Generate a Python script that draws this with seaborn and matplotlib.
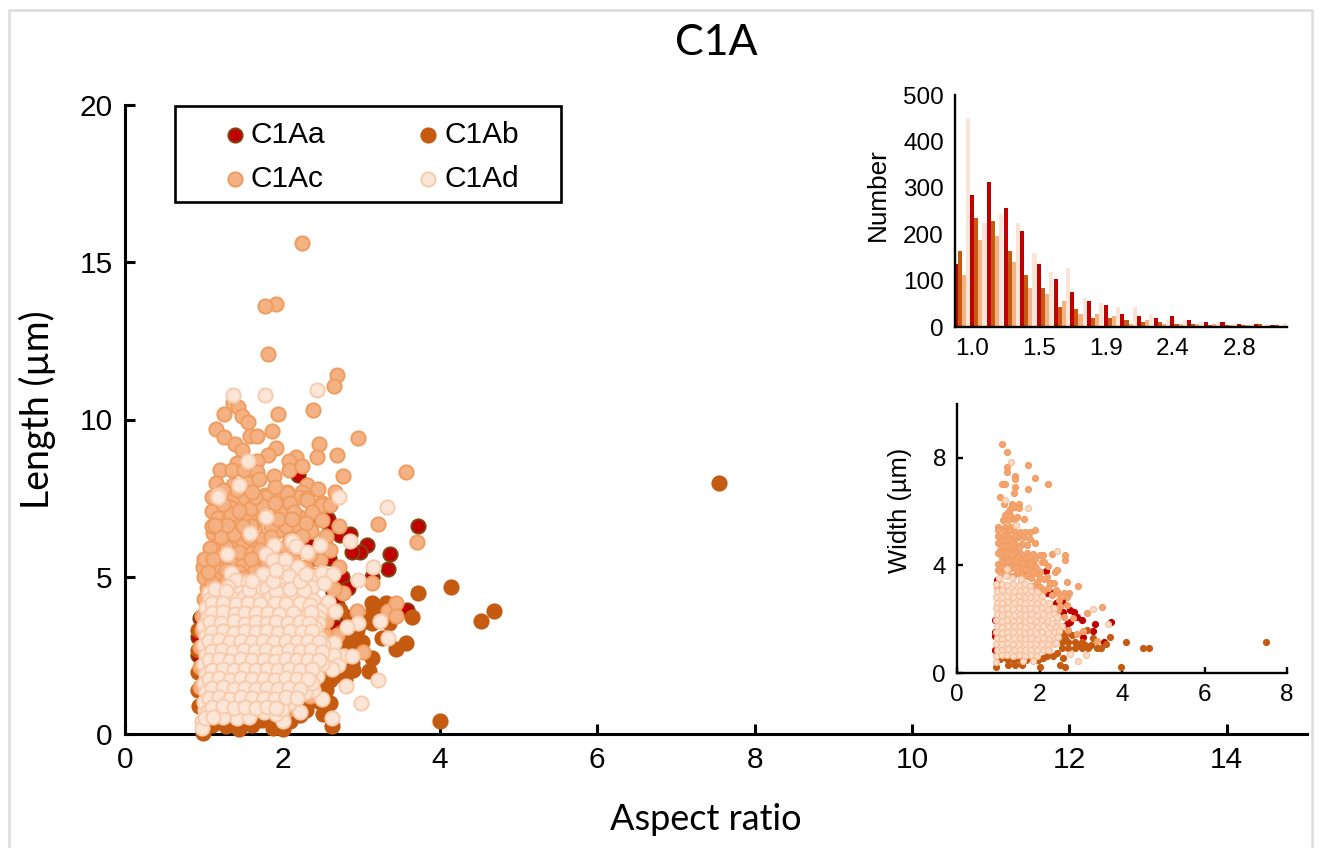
#!/usr/bin/env python
# filename: plot.py

import matplotlib
matplotlib.use('Agg')
import matplotlib.pyplot as plt
from matplotlib.patches import Rectangle
import pandas as pd
import seaborn as sns

W, H = 1320, 848

# --- main panel: (aspect ratio, length um)
c1aa_main = [
    (3.72,6.61),(2.58,6.84),(2.59,6.42),(2.73,6.33),(2.86,6.36),(3.07,6.01),(2.99,5.79),(2.88,5.79),
    (3.37,5.72),(3.34,5.25),(2.59,5.60),(2.76,4.99),(2.83,4.64),(3.14,4.99),(3.58,3.94),(2.82,3.72),
    (2.92,3.08),(2.64,4.48),(2.35,4.00),(2.54,6.01),(2.41,5.60),(2.20,6.23),(2.33,6.01),(2.39,6.96),
    (2.20,8.24),(0.95,3.69),(0.93,3.10),(0.93,2.50),(2.68,3.40),(2.70,4.10),
]
c1ab_main = [
    (7.55,7.98),(3.72,4.48),(4.14,4.67),(4.69,3.91),(4.52,3.59),(3.65,3.72),(4.00,0.41),(3.15,3.94),
    (3.32,4.17),(3.14,3.53),(3.35,3.53),(3.27,3.05),(3.57,2.89),(3.44,2.70),(3.14,2.42),(3.10,2.00),
    (3.01,2.93),(2.88,2.26),(2.73,1.94),(2.60,0.99),(2.52,0.64),(2.63,0.25),(2.01,0.16),(1.45,0.16),
    (1.28,0.25),(0.99,0.03),(1.74,0.45),(2.20,0.99),(2.33,1.08),(0.93,2.67),(0.93,1.97),(0.93,1.40),
    (0.93,3.30),(2.86,3.62),(2.73,3.94),(2.80,2.99),(2.67,2.67),(2.60,1.72),(2.41,1.40),(2.22,0.60),
    (1.90,0.38),(2.48,2.99),(3.14,4.18),(2.75,3.25),(2.92,2.72),(2.58,2.25),(2.48,1.85),(2.30,0.75),
    (1.10,0.30),(1.62,0.30),(1.88,0.20),(1.20,0.45),(2.10,0.40),(2.95,3.30),(3.05,3.60),(0.94,0.90),
    (2.85,3.00),(2.75,2.50),(2.90,2.05),(2.62,2.80),(2.70,2.30),(2.80,1.75),(2.55,1.40),(2.45,1.05),
]
c1ac_main = [
    (2.25,15.61),(1.92,13.67),(1.78,13.61),(1.82,12.08),(2.69,11.41),(2.66,11.07),(1.37,10.52),(1.44,10.40),
    (1.26,10.17),(1.49,10.11),(1.56,9.92),(1.94,10.17),(2.39,10.30),(1.16,9.70),(1.26,9.44),(1.59,9.48),
    (1.68,9.48),(1.87,9.63),(2.96,9.41),(2.47,9.22),(1.40,9.22),(1.49,9.03),(1.92,9.09),(2.44,8.81),
    (2.69,8.87),(1.82,8.87),(2.17,8.81),(2.08,8.68),(2.08,8.39),(2.25,8.52),(1.68,8.68),(1.42,8.62),
    (1.21,8.39),(1.36,8.39),(1.51,8.39),(1.68,8.33),(1.89,8.20),(2.77,8.20),(3.57,8.33),(1.16,7.98),
    (1.37,7.92),(1.56,7.98),(1.52,7.69),(2.06,7.69),(2.31,7.92),(2.45,7.79),(2.67,7.69),(2.25,7.69),
    (1.78,7.60),(1.94,7.54),(2.22,7.54),(2.31,7.50),(2.50,7.35),(1.37,7.54),(1.52,7.50),(1.79,7.54),
    (2.06,7.66),(2.31,7.44),(2.50,7.28),(2.60,7.28),(1.11,7.09),(1.33,7.22),(1.18,6.87),(1.32,6.84),
    (1.55,6.80),(1.69,7.03),(1.97,7.09),(2.20,6.93),(2.38,7.06),(2.21,6.61),(2.36,6.45),(2.72,6.61),
    (3.21,6.68),(3.71,6.10),(1.12,6.39),(1.30,6.33),(1.46,6.42),(1.93,6.45),(1.21,6.10),(1.37,6.07),
    (1.68,6.01),(1.17,5.85),(1.55,5.76),(2.01,5.79),(1.04,5.60),(1.11,5.28),(0.99,5.31),(1.18,5.37),
    (1.42,5.47),(1.68,5.53),(2.48,5.53),(2.72,5.31),(2.29,5.31),(1.18,4.90),(1.04,4.64),(3.14,4.80),
    (2.77,4.48),(2.95,3.91),(3.34,3.91),(3.44,4.17),(3.44,3.75),(3.02,2.61),(2.69,3.15),(2.54,3.15),
    (1.04,3.94),(0.98,3.31),(0.95,1.49),(0.95,2.13),(0.95,2.77),(2.06,0.76),(1.05,5.50),(1.10,6.60),
    (1.25,6.50),(1.40,6.90),(1.60,7.20),(1.75,6.90),(1.85,6.60),(2.05,6.60),(2.10,6.20),(1.50,6.10),
    (1.85,5.90),(1.95,5.80),(2.15,5.70),(1.20,5.70),(1.35,5.50),(1.50,5.40),(1.80,5.40),(1.35,7.00),
    (1.65,6.50),(1.25,7.30),(1.45,7.10),(2.30,6.70),(2.50,6.80),(2.20,5.90),(1.08,5.90),(1.28,5.95),
    (1.45,5.80),(1.62,5.75),(1.75,6.20),(1.60,6.60),(2.35,5.70),(2.20,5.30),(1.00,5.00),(1.10,4.80),
    (2.60,5.00),(2.65,4.60),(2.55,3.60),(2.50,2.30),(2.35,1.20),(2.15,0.85),(1.90,0.70),
    (1.00,4.30),(0.98,3.75),(1.05,5.15),(1.28,5.20),(1.45,5.15),(1.65,5.20),(1.95,5.30),(2.05,5.95),
    (2.35,5.10),(2.50,4.85),(1.30,4.85),(1.50,4.95),(1.75,4.95),(1.22,6.25),(1.38,6.35),(1.58,6.25),
    (1.85,6.25),(1.72,5.85),(1.30,6.65),(1.50,6.60),(1.15,6.65),(1.75,7.25),(1.90,7.35),(1.10,7.55),
    (1.25,7.75),(1.42,7.75),(1.65,7.55),(1.70,8.10),(2.10,7.35),(2.15,7.05),(2.55,6.30),(2.60,5.85),
    (1.00,5.55),(1.12,5.55),(1.60,5.55),(2.25,6.30),(1.95,6.85),(2.12,6.85),(1.62,7.70),(1.90,7.85),
]
c1ad_main = [
    (1.37,10.78),(1.78,10.78),(2.44,10.94),(1.56,8.68),(1.45,7.92),(1.18,7.60),(2.72,7.54),(3.33,7.22),
    (1.18,7.54),(1.79,6.90),(1.59,6.39),(2.86,6.14),(2.48,6.01),(2.12,6.14),(1.89,6.01),(2.17,5.98),
    (2.31,5.79),(1.30,5.72),(1.79,5.72),(1.88,5.53),(2.03,5.53),(2.20,5.31),(3.15,5.31),(2.03,5.15),
    (2.08,5.02),(2.39,4.99),(2.50,5.12),(2.64,5.09),(2.96,4.90),(1.35,5.12),(1.41,4.90),(1.56,4.83),
    (1.75,5.09),(1.70,4.64),(1.31,4.67),(1.07,4.48),(1.46,4.48),(1.80,4.64),(2.00,4.58),(2.38,4.67),
    (2.53,4.80),(2.20,4.39),(2.39,4.26),(1.99,4.32),(2.58,4.20),(2.67,3.91),(2.48,3.91),(2.45,3.72),
    (2.15,4.04),(3.24,3.59),(2.96,3.53),(2.82,3.40),(2.45,3.53),(3.34,3.05),(2.66,2.89),(2.77,2.48),
    (2.88,2.48),(2.66,2.51),(2.71,2.19),(2.63,2.07),(2.48,2.67),(3.21,1.72),(2.81,1.53),(3.00,0.99),
    (2.50,1.11),(2.39,1.40),(2.29,1.34),(2.22,0.70),(2.63,0.51),(2.01,0.41),(0.98,0.41),(0.98,0.19),
    (1.02,0.76),
    (1.08,4.30),(1.22,4.33),(1.38,4.28),(1.51,4.35),(1.66,4.27),(1.84,4.31),(1.97,4.26),(2.12,4.30),
    (1.03,4.02),(1.15,3.98),(1.29,4.05),(1.44,3.97),(1.58,4.03),(1.71,4.00),(1.87,3.96),(2.02,4.04),(2.28,3.98),
    (1.05,3.72),(1.19,3.68),(1.33,3.75),(1.47,3.66),(1.62,3.73),(1.76,3.70),(1.91,3.67),(2.06,3.74),(2.21,3.69),(2.36,3.71),
    (1.01,3.42),(1.14,3.38),(1.27,3.44),(1.41,3.37),(1.55,3.43),(1.69,3.40),(1.84,3.36),(1.98,3.44),(2.13,3.39),(2.28,3.41),(2.41,3.36),
    (1.03,3.12),(1.17,3.08),(1.31,3.14),(1.45,3.06),(1.59,3.13),(1.73,3.10),(1.88,3.05),(2.03,3.14),(2.17,3.09),(2.32,3.11),(2.46,3.06),
    (1.00,2.82),(1.13,2.78),(1.26,2.84),(1.40,2.76),(1.54,2.83),(1.68,2.80),(1.82,2.75),(1.96,2.84),(2.11,2.79),(2.25,2.81),(2.39,2.76),(2.52,2.82),
    (1.03,2.52),(1.16,2.48),(1.30,2.54),(1.44,2.46),(1.58,2.53),(1.72,2.50),(1.86,2.45),(2.01,2.54),(2.15,2.49),(2.29,2.51),(2.43,2.46),
    (1.00,2.22),(1.13,2.18),(1.27,2.24),(1.41,2.16),(1.55,2.23),(1.69,2.20),(1.83,2.15),(1.97,2.24),(2.11,2.19),(2.25,2.21),(2.39,2.16),(2.50,2.22),
    (1.03,1.92),(1.17,1.88),(1.31,1.94),(1.45,1.86),(1.59,1.93),(1.73,1.90),(1.87,1.85),(2.02,1.94),(2.16,1.89),(2.30,1.91),(2.44,1.86),
    (1.00,1.62),(1.13,1.58),(1.27,1.64),(1.41,1.56),(1.55,1.63),(1.69,1.60),(1.83,1.55),(1.97,1.64),(2.11,1.59),(2.25,1.61),(2.37,1.62),
    (1.03,1.32),(1.17,1.28),(1.31,1.34),(1.45,1.26),(1.59,1.33),(1.73,1.30),(1.87,1.25),(2.02,1.34),(2.16,1.29),
    (1.00,1.02),(1.13,0.98),(1.27,1.04),(1.41,0.96),(1.55,1.03),(1.69,1.00),(1.83,0.95),(1.97,1.04),(2.09,0.99),
    (1.06,0.72),(1.20,0.68),(1.34,0.74),(1.48,0.66),(1.62,0.73),(1.76,0.70),(1.92,0.65),(2.00,0.78),
    (1.42,0.50),(1.58,0.55),(1.25,0.55),
    (1.14,4.60),(1.28,4.55),(1.58,4.58),(1.92,4.55),(2.10,4.62),(2.28,4.58),(1.62,4.85),(1.88,4.88),(2.22,4.85),(2.30,5.10),(1.92,5.20),
    (1.11,4.15),(1.25,4.18),(1.41,4.12),(1.56,4.18),(1.72,4.14),(1.90,4.16),(2.05,4.12),(2.22,4.15),(2.35,4.10),
    (1.10,3.85),(1.25,3.88),(1.40,3.82),(1.52,3.86),(1.66,3.84),(1.82,3.86),(1.96,3.82),(2.14,3.85),(2.36,3.88),
    (1.08,3.55),(1.22,3.52),(1.38,3.58),(1.52,3.51),(1.66,3.56),(1.80,3.53),(1.92,3.56),(2.07,3.52),(2.22,3.56),(2.34,3.52),
    (1.10,3.25),(1.24,3.28),(1.38,3.22),(1.52,3.27),(1.66,3.24),(1.80,3.26),(1.95,3.22),(2.10,3.27),(2.25,3.24),(2.38,3.26),
    (1.07,2.95),(1.20,2.98),(1.33,2.92),(1.47,2.97),(1.61,2.94),(1.75,2.96),(1.89,2.92),(2.04,2.97),(2.18,2.94),(2.32,2.96),(2.46,2.92),
    (1.10,2.65),(1.23,2.68),(1.37,2.62),(1.51,2.67),(1.65,2.64),(1.79,2.66),(1.93,2.62),(2.08,2.67),(2.22,2.64),(2.36,2.66),(2.50,2.60),
    (1.07,2.35),(1.20,2.38),(1.34,2.32),(1.48,2.37),(1.62,2.34),(1.76,2.36),(1.90,2.32),(2.04,2.37),(2.18,2.34),(2.32,2.36),(2.46,2.34),
    (1.10,2.05),(1.24,2.08),(1.38,2.02),(1.52,2.07),(1.66,2.04),(1.80,2.06),(1.94,2.02),(2.09,2.07),(2.23,2.04),(2.37,2.06),
    (1.07,1.75),(1.20,1.78),(1.34,1.72),(1.48,1.77),(1.62,1.74),(1.76,1.76),(1.90,1.72),(2.04,1.77),(2.18,1.74),(2.32,1.76),
    (1.10,1.45),(1.24,1.48),(1.38,1.42),(1.52,1.47),(1.66,1.44),(1.80,1.46),(1.94,1.42),(2.09,1.47),(2.23,1.44),
    (1.07,1.15),(1.20,1.18),(1.34,1.12),(1.48,1.17),(1.62,1.14),(1.76,1.16),(1.90,1.12),(2.04,1.17),(2.18,1.14),
    (1.10,0.85),(1.24,0.88),(1.38,0.82),(1.52,0.87),(1.66,0.84),(1.80,0.86),(1.92,0.82),(1.02,0.50),(1.12,0.55),
]

# --- width inset: (aspect ratio, width um)
c1aa_ins = [
    (2.15,3.79),(2.54,2.68),(2.34,3.00),(2.56,2.28),(2.74,2.35),(2.84,2.28),(2.90,2.07),(3.02,1.98),
    (2.74,1.91),(3.35,1.81),(3.30,1.57),(3.73,1.89),(3.56,1.17),(0.92,1.98),(0.92,1.54),(0.92,1.36),
    (0.96,3.46),(2.17,2.96),(2.66,1.83),(0.92,0.85),(2.40,2.60),(3.05,1.35),(1.60,3.80),(2.25,3.35),
]
c1ab_ins = [
    (7.49,1.17),(4.09,1.17),(4.50,0.93),(4.66,0.93),(3.98,0.21),(3.71,1.32),(3.60,1.09),(3.39,0.93),
    (3.50,0.93),(2.62,0.21),(2.50,0.28),(2.00,0.21),(0.94,0.21),(1.24,0.28),(1.41,0.28),(1.57,0.30),
    (2.17,0.62),(2.58,0.56),(2.54,0.93),(2.70,0.93),(2.86,0.93),(3.02,0.93),(3.18,0.93),(2.54,1.17),
    (2.70,1.17),(2.86,1.17),(3.02,1.17),(2.54,1.48),(2.70,1.54),(2.78,1.42),(3.14,1.60),(3.30,1.30),
    (3.26,1.05),(1.04,0.52),(1.20,0.52),(1.36,0.50),(1.68,0.50),(1.84,0.50),(2.08,0.56),(2.32,0.62),
    (1.52,0.50),(1.96,0.50),(2.42,0.75),(2.62,1.30),(2.94,1.05),(3.10,1.05),
]
c1ac_ins = [
    (1.10,8.52),(1.20,8.21),(1.20,7.65),(1.20,7.49),(1.73,7.72),(1.88,7.25),(1.41,7.31),(1.41,7.22),
    (1.09,7.01),(1.16,7.01),(2.20,7.01),(1.41,6.91),(1.73,6.85),(1.37,6.69),(1.05,6.53),(1.14,6.30),
    (1.33,6.30),(1.51,6.30),(1.41,6.17),(1.51,6.15),(1.28,6.11),(1.24,5.99),(1.16,5.86),(1.28,5.86),
    (1.12,5.70),(1.24,5.70),(1.37,5.74),(1.62,5.74),(1.45,5.80),(1.00,5.41),(1.00,5.31),(1.16,5.43),
    (1.28,5.43),(1.16,5.28),(1.28,5.31),(1.41,5.25),(1.53,5.25),(1.65,5.25),(1.77,5.25),(1.88,5.33),
    (1.00,5.09),(1.12,5.09),(1.24,5.09),(1.37,5.00),(1.77,5.00),(1.88,4.84),(1.57,4.78),(1.00,4.84),
    (1.12,4.84),(1.24,4.84),(1.04,4.59),(1.16,4.59),(1.28,4.59),(1.41,4.53),(1.53,4.47),(1.69,4.47),
    (1.84,4.44),(2.01,4.38),(2.08,4.38),(2.30,4.44),(2.62,4.38),(2.62,4.20),(2.05,4.14),(2.11,4.12),
    (2.20,3.98),(1.88,3.98),(1.69,4.07),(1.00,4.07),(1.16,4.07),(1.32,4.07),(1.49,4.07),(1.00,3.83),
    (1.16,3.83),(1.32,3.89),(1.53,3.83),(1.77,3.83),(2.01,3.77),(2.38,3.77),(2.42,3.83),(2.17,3.58),
    (2.01,3.52),(2.25,3.33),(2.35,3.33),(2.67,3.40),(2.94,3.25),(2.46,2.99),(2.60,2.99),(2.72,2.99),
    (2.67,2.84),(2.66,2.53),(3.14,2.22),(3.51,2.44),(1.40,4.30),(1.60,4.25),(1.80,4.20),(1.10,4.30),
    (1.25,4.30),(1.92,3.70),(1.70,3.60),(1.45,3.70),(0.96,3.20),(2.10,3.10),(2.30,2.90),(2.48,2.70),
    (2.80,2.05),(3.05,1.55),(3.40,1.20),(2.90,1.45),
    (1.40,5.08),(1.50,5.05),(1.62,5.06),(1.40,4.80),(1.35,4.70),(1.50,4.70),(1.70,4.75),(1.08,4.96),
    (1.18,4.96),(1.30,4.96),(1.08,4.72),(1.20,4.72),(1.33,4.78),(1.00,4.45),(1.10,4.45),(1.22,4.45),
    (1.34,4.42),(1.48,4.30),(1.68,4.30),(1.88,4.25),(1.08,4.18),(1.24,4.18),(1.40,4.18),(1.58,4.10),
    (1.78,4.05),(1.95,3.88),(1.08,3.95),(1.24,3.95),(1.42,3.92),(1.65,3.88),(1.85,3.75),(1.06,3.70),
    (1.22,3.70),(1.35,3.62),(1.58,3.65),(1.80,3.55),(1.95,3.40),(2.10,3.50),(1.85,3.25),(2.00,3.20),
    (2.20,3.15),(2.40,3.10),(2.55,2.85),(2.50,2.50),(2.45,2.35),(2.60,2.10),(2.70,1.60),
]
c1ad_ins = [
    (1.31,7.86),(1.16,6.44),(1.73,6.12),(1.43,5.49),(2.42,4.53),(3.29,2.37),(3.67,1.83),(2.94,0.43),
    (2.74,0.70),(3.13,0.68),
    (1.02,3.55),(1.18,3.60),(1.34,3.52),(1.55,3.48),(1.20,3.85),
    (0.95,3.30),(1.08,3.30),(1.22,3.28),(1.36,3.32),(1.50,3.27),(1.64,3.30),(1.78,3.25),
    (0.97,3.05),(1.10,3.08),(1.24,3.04),(1.38,3.06),(1.52,3.03),(1.66,3.07),(1.80,3.04),(1.94,3.02),
    (0.95,2.84),(1.08,2.82),(1.22,2.86),(1.36,2.83),(1.50,2.85),(1.64,2.82),(1.78,2.84),(1.92,2.82),(2.06,2.85),
    (0.97,2.62),(1.10,2.60),(1.24,2.64),(1.38,2.61),(1.52,2.63),(1.66,2.60),(1.80,2.62),(1.94,2.60),(2.08,2.63),(2.22,2.60),
    (0.95,2.40),(1.08,2.38),(1.22,2.42),(1.36,2.39),(1.50,2.41),(1.64,2.38),(1.78,2.40),(1.92,2.38),(2.06,2.41),(2.20,2.38),(2.34,2.40),
    (0.97,2.18),(1.10,2.16),(1.24,2.20),(1.38,2.17),(1.52,2.19),(1.66,2.16),(1.80,2.18),(1.94,2.16),(2.08,2.19),(2.22,2.16),(2.36,2.18),
    (0.95,1.96),(1.08,1.94),(1.22,1.98),(1.36,1.95),(1.50,1.97),(1.64,1.94),(1.78,1.96),(1.92,1.94),(2.06,1.97),(2.20,1.94),(2.42,1.96),
    (0.97,1.74),(1.10,1.72),(1.24,1.76),(1.38,1.73),(1.52,1.75),(1.66,1.72),(1.80,1.74),(1.94,1.72),(2.08,1.75),(2.25,1.72),(2.40,1.72),(2.55,1.75),
    (0.95,1.52),(1.08,1.50),(1.22,1.54),(1.36,1.51),(1.50,1.53),(1.64,1.50),(1.78,1.52),(1.92,1.50),(2.06,1.53),(2.20,1.50),(2.34,1.52),
    (0.97,1.30),(1.10,1.28),(1.24,1.32),(1.38,1.29),(1.52,1.31),(1.66,1.28),(1.80,1.30),(1.94,1.28),(2.08,1.31),(2.22,1.28),(2.38,1.30),
    (0.95,1.08),(1.08,1.06),(1.22,1.10),(1.36,1.07),(1.50,1.09),(1.64,1.06),(1.78,1.08),(1.92,1.06),(2.06,1.09),(2.20,1.06),(2.34,1.08),
    (0.97,0.86),(1.10,0.84),(1.24,0.88),(1.38,0.85),(1.52,0.87),(1.66,0.84),(1.80,0.86),(1.94,0.84),(2.08,0.87),(2.22,0.84),
    (0.95,0.64),(1.08,0.66),(1.22,0.68),(1.36,0.65),(1.50,0.67),(1.66,0.64),(1.80,0.66),(1.94,0.64),(2.20,0.85),
    (0.95,0.42),(1.60,0.46),(1.85,0.44),(2.40,1.10),(2.30,1.85),(2.42,2.10),(2.45,1.35),(2.48,1.55),
]

# --- histogram inset
hist_bins = ['0.9','1.0','1.1','1.2','1.3','1.4','1.5','1.6','1.7','1.8',
             '1.9','2.0','2.2','2.3','2.4','2.5','2.6','2.7','2.8','2.9']
hist_a = [136,285,312,257,206,136,103,75,57,48,29,24,19,24,15,11,11,6,6,5]
hist_b = [164,234,229,164,113,85,44,39,20,20,16,11,11,6,6,5,5,5,6,5]
hist_c = [113,187,197,141,85,72,57,29,29,24,6,16,6,6,6,6,4,4,3,3]
hist_d = [451,224,243,224,159,118,127,62,52,44,44,29,15,15,11,11,6,5,5,8]
hist_ticks = ['1.0','1.5','1.9','2.4','2.8']

names = ['C1Aa', 'C1Ab', 'C1Ac', 'C1Ad']
face = ['#C00000', '#C55A11', '#F4B183', '#FBE5D6']
edge = ['#7F4510', '#C55A11', '#F09C5E', '#F8CBAD']
ins_face = ['#C00000', '#C55A11', '#F4A46E', '#FBDCC8']
ins_edge = ['#C00000', '#C55A11', '#F29C62', '#F7BE98']

sns.set_style('white')
plt.rcParams['font.family'] = ['Liberation Sans', 'DejaVu Sans']
plt.rcParams['text.color'] = 'black'


def box(left, top, right, bottom):
    # pixel box -> figure fractions
    return [left / W, 1 - bottom / H, (right - left) / W, (bottom - top) / H]


def put(x, y, s, **kw):
    return fig.text(x / W, 1 - y / H, s, ha='center', va='center', color='black', **kw)


def pts(pairs):
    return pd.DataFrame(pairs, columns=['x', 'y'])


def clean(ax, lw, tick_len, tick_size):
    sns.despine(ax=ax)
    for side in ['left', 'bottom']:
        ax.spines[side].set_linewidth(lw)
        ax.spines[side].set_color('black')
    ax.tick_params(axis='both', direction='in', length=tick_len, width=lw,
                   labelsize=tick_size, color='black', labelcolor='black', pad=8,
                   left=True, bottom=True)
    ax.set_xlabel('')
    ax.set_ylabel('')


fig = plt.figure(figsize=(W / 100, H / 100), dpi=100, facecolor='white')

# thin grey frame round the whole picture
fig.add_artist(Rectangle((9 / W, -0.01), (1312 - 9) / W, 1.01 - 10 / H, transform=fig.transFigure,
                         fill=False, edgecolor='#DCDCDC', linewidth=1.8))

# main scatter
ax = fig.add_axes(box(125, 105, 1307, 734))
ax.patch.set_alpha(0)
series = [c1aa_main, c1ab_main, c1ac_main, c1ad_main]
for i, s in enumerate(series):
    sns.scatterplot(data=pts(s), x='x', y='y', ax=ax, s=105, color=face[i], edgecolor=edge[i],
                    linewidth=1.4, label=names[i], clip_on=False, zorder=3 + i)
ax.set_xlim(0, 15.02)
ax.set_ylim(0, 20)
ax.set_xticks([0, 2, 4, 6, 8, 10, 12, 14])
ax.set_yticks([0, 5, 10, 15, 20])
clean(ax, 2.2, 7, 21.5)
ax.tick_params(axis='both', pad=9)

handles, labels = ax.get_legend_handles_labels()
order = [0, 2, 1, 3]
leg = ax.legend([handles[i] for i in order], [labels[i] for i in order], ncol=2, frameon=False,
                loc='upper left', bbox_to_anchor=(220 / W, 1 - 121 / H), bbox_transform=fig.transFigure,
                borderpad=0, borderaxespad=0, handlelength=1, handletextpad=0.03, columnspacing=2.95,
                labelspacing=0.53, fontsize=21.5, scatterpoints=1)
fig.add_artist(Rectangle((175 / W, 1 - 202 / H), (561 - 175) / W, 96 / H, transform=fig.transFigure,
                         fill=False, edgecolor='black', linewidth=1.9))

put(716, 43, 'C1A', fontsize=31, family=['Lato', 'DejaVu Sans'])
put(706, 819, 'Aspect ratio', fontsize=26, family=['Lato', 'DejaVu Sans'])
put(37, 410, 'Length (µm)', fontsize=27, family=['Lato', 'DejaVu Sans'], rotation=90)

# histogram inset
hist_df = pd.DataFrame({'bin': hist_bins, 'C1Aa': hist_a, 'C1Ab': hist_b, 'C1Ac': hist_c, 'C1Ad': hist_d})
hist_df = hist_df.melt(id_vars='bin', var_name='type', value_name='n')
ax2 = fig.add_axes(box(955, 95, 1287, 327))
ax2.patch.set_alpha(0)
sns.barplot(data=hist_df, x='bin', y='n', hue='type', hue_order=names, palette=face, saturation=1,
            width=0.98, gap=0, legend=False, linewidth=0, ax=ax2)
ax2.set_xlim(-0.4, 19.5)
ax2.set_ylim(0, 500)
ax2.set_xticks([0.64, 4.64, 8.64, 12.64, 16.64])
ax2.set_xticklabels(hist_ticks)
ax2.set_yticks([0, 100, 200, 300, 400, 500])
clean(ax2, 1.7, 0, 17.5)
put(878, 195, 'Number', fontsize=18.8, rotation=90)

# width inset
ax3 = fig.add_axes(box(957, 404, 1287, 673))
ax3.patch.set_alpha(0)
series = [c1aa_ins, c1ab_ins, c1ac_ins, c1ad_ins]
for i, s in enumerate(series):
    sns.scatterplot(data=pts(s), x='x', y='y', ax=ax3, s=19, color=ins_face[i], edgecolor=ins_edge[i],
                    linewidth=0.8, clip_on=False, zorder=3 + i, legend=False)
ax3.set_xlim(0, 8)
ax3.set_ylim(0, 10)
ax3.set_xticks([0, 2, 4, 6, 8])
ax3.set_yticks([0, 4, 8])
clean(ax3, 1.7, 4, 17.5)
put(900, 510, 'Width (µm)', fontsize=18.4, rotation=90)

fig.savefig('out.png', dpi=100)
